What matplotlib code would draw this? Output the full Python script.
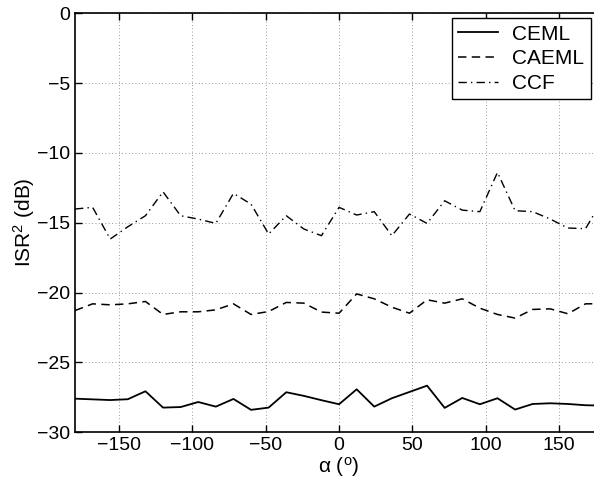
import numpy as np
import matplotlib
matplotlib.use("Agg")
import matplotlib.pyplot as plt

plt.rcParams['font.family'] = ['Liberation Sans', 'DejaVu Sans']
plt.rcParams['mathtext.fontset'] = 'custom'
plt.rcParams['mathtext.rm'] = 'Liberation Sans'
plt.rcParams['mathtext.it'] = 'Liberation Sans:italic'

# angulos (grados)
alpha = np.arange(-180, 181, 12)

ceml = [-27.6, -27.65, -27.7, -27.64, -27.07, -28.24, -28.2, -27.84, -28.17, -27.62,
        -28.4, -28.24, -27.14, -27.4, -27.71, -28.0, -26.93, -28.17, -27.57, -27.12,
        -26.67, -28.26, -27.55, -28.0, -27.57, -28.38, -27.98, -27.93, -27.98, -28.07,
        -28.1]
caeml = [-21.29, -20.81, -20.88, -20.81, -20.64, -21.57, -21.38, -21.38, -21.24, -20.81,
         -21.57, -21.36, -20.71, -20.76, -21.4, -21.48, -20.1, -20.45, -21.05, -21.48,
         -20.52, -20.76, -20.45, -21.12, -21.57, -21.83, -21.21, -21.17, -21.52, -20.81,
         -20.8]
ccf = [-14.02, -13.9, -16.17, -15.29, -14.5, -12.79, -14.5, -14.74, -15.05, -12.9,
       -13.67, -15.81, -14.5, -15.45, -15.93, -13.9, -14.45, -14.21, -15.93, -14.38,
       -15.05, -13.43, -14.1, -14.21, -11.4, -14.14, -14.21, -14.74, -15.38, -15.43,
       -13.3]

xticks = [-150, -100, -50, 0, 50, 100, 150]
yticks = [0, -5, -10, -15, -20, -25, -30]

fig = plt.figure(figsize=(5.94, 4.9), dpi=100)
ax = fig.add_axes([0.1263, 0.118, 0.889, 0.855])

ax.plot(alpha, ceml, color='black', lw=1.3, linestyle='-', label='CEML')
ax.plot(alpha, caeml, color='black', lw=1.1, linestyle=(0, (5.5, 3.5)), label='CAEML')
ax.plot(alpha, ccf, color='black', lw=1.0, linestyle=(0, (6, 3, 1, 3)), label='CCF')

ax.set_xlim(-180, 180)
ax.set_ylim(-30, 0)
ax.set_xticks(xticks)
ax.set_yticks(yticks)
ax.tick_params(direction='in', top=True, right=True, labelsize=14, length=5, width=1)
ax.grid(True, linestyle=(0, (1, 3)), color='#777777', lw=0.6)
for s in ax.spines.values():
    s.set_linewidth(1.2)

ax.set_xlabel(r'α ($^{\mathrm{o}}$)', fontsize=15, labelpad=1)
ax.set_ylabel(r'ISR$^{2}$ (dB)', fontsize=15, labelpad=0)

leg = ax.legend(loc='upper left', bbox_to_anchor=(0.714, 0.988), fontsize=15,
                frameon=True, fancybox=False, handlelength=1.9, borderaxespad=0,
                labelspacing=0.28, handletextpad=0.7, borderpad=0.3)
leg.get_frame().set_edgecolor('black')
leg.get_frame().set_linewidth(1.0)
leg.get_frame().set_alpha(1)

fig.savefig('out.png', dpi=100)
